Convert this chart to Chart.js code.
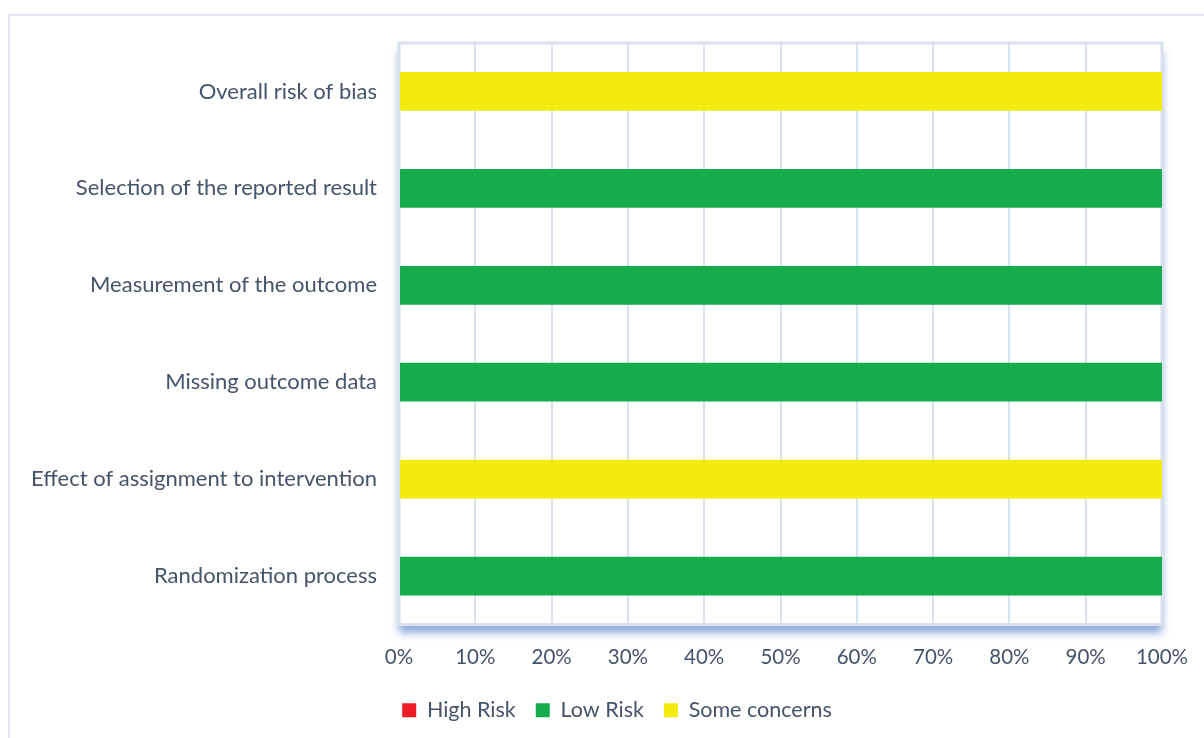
<!DOCTYPE html>
<html>
<head>
<meta charset="utf-8">
<script src="https://cdn.jsdelivr.net/npm/chart.js@4"></script>
<style>
  html, body { margin: 0; padding: 0; background: #fff; }
  #wrap { width: 1204px; height: 738px; }
</style>
</head>
<body>
<div id="wrap"><canvas id="barChart" width="1204" height="738"></canvas></div>
<script>
// categories, top to bottom
const domains = [
    'Overall risk of bias',
    'Selection of the reported result',
    'Measurement of the outcome',
    'Missing outcome data',
    'Effect of assignment to intervention',
    'Randomization process'
];

// percent of studies per judgement
const high_risk = [0, 0, 0, 0, 0, 0];
const low_risk = [0, 100, 100, 100, 0, 100];
const some_concerns = [100, 0, 0, 0, 100, 0];

const pct_ticks = [0, 10, 20, 30, 40, 50, 60, 70, 80, 90, 100];

const textColor = '#44546a';
const gridColor = '#d9e1ee';

// outer frame + shadowed plot area, drawn before the bars
const framePlugin = {
    id: 'frame',
    afterLayout(chart) {
        // legend sits a bit right of centre in the original
        chart.legend.left += 36;
        chart.legend.right += 36;
    },
    beforeDraw(chart) {
        const ctx = chart.ctx;
        const a = chart.chartArea;
        ctx.save();
        ctx.strokeStyle = '#e1e6ee';
        ctx.lineWidth = 2;
        ctx.strokeRect(9, 15, 1260, 800);

        ctx.shadowColor = 'rgba(68, 114, 196, 0.6)';
        ctx.shadowBlur = 8;
        ctx.shadowOffsetY = 8;
        ctx.fillStyle = '#ffffff';
        ctx.fillRect(a.left, a.top, a.right - a.left, a.bottom - a.top);
        ctx.shadowColor = 'transparent';
        ctx.strokeStyle = gridColor;
        ctx.lineWidth = 3;
        ctx.strokeRect(a.left, a.top, a.right - a.left, a.bottom - a.top);
        ctx.restore();
    }
};

const data = {
    labels: domains,
    datasets: [
        {
            label: 'High Risk',
            backgroundColor: '#ee1c25',
            data: high_risk
        },
        {
            label: 'Low Risk',
            backgroundColor: '#15ad4c',
            data: low_risk
        },
        {
            label: 'Some concerns',
            backgroundColor: '#f3eb0c',
            data: some_concerns
        }
    ]
};

const config_bar = {
    type: 'bar',
    data: data,
    plugins: [framePlugin],
    options: {
        indexAxis: 'y',
        responsive: false,
        animation: false,
        barPercentage: 0.4,
        categoryPercentage: 1.0,
        layout: {
            padding: { left: 0, top: 43, right: 42, bottom: 7 }
        },
        scales: {
            x: {
                stacked: true,
                min: 0,
                max: 100,
                afterBuildTicks(scale) {
                    scale.ticks = pct_ticks.map(v => ({ value: v }));
                },
                afterFit(scale) {
                    scale.height = 55;
                    scale.paddingLeft = 0;
                    scale.paddingRight = 0;
                },
                grid: { color: gridColor, lineWidth: 2, drawTicks: false },
                border: { display: false },
                ticks: {
                    color: textColor,
                    font: { family: 'Lato', size: 20.5 },
                    padding: 21,
                    maxRotation: 0,
                    callback: v => v + '%'
                }
            },
            y: {
                stacked: true,
                afterFit(scale) { scale.width = 399; },
                grid: { display: false, drawTicks: false },
                border: { display: false },
                ticks: {
                    color: textColor,
                    font: { family: 'Lato', size: 22 },
                    padding: 22
                }
            }
        },
        plugins: {
            legend: {
                position: 'bottom',
                labels: {
                    color: textColor,
                    font: { family: 'Lato', size: 21.5 },
                    boxWidth: 14,
                    boxHeight: 14,
                    padding: 20
                }
            },
            tooltip: { enabled: false }
        }
    }
};

const myBarChart = new Chart(document.getElementById('barChart'), config_bar);
</script>
</body>
</html>
